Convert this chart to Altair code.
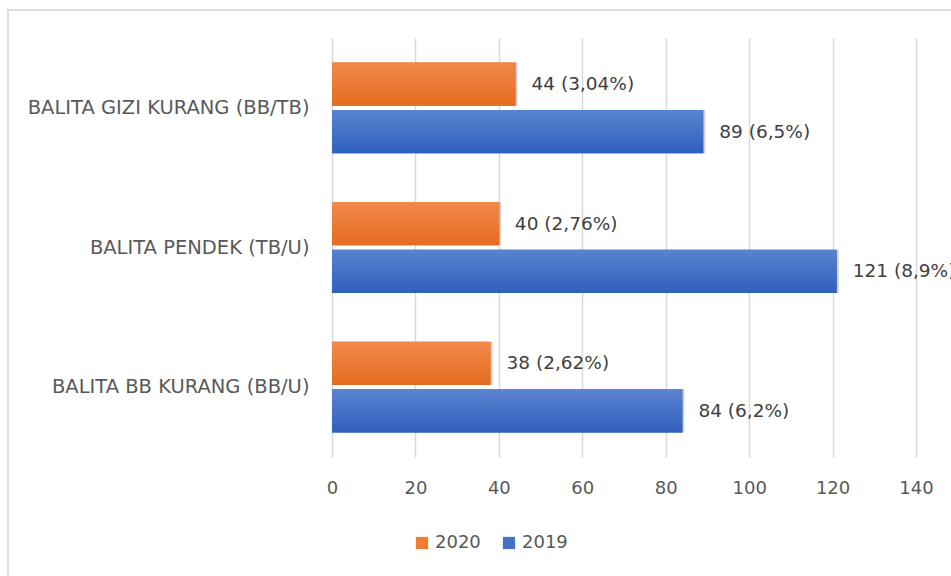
import altair as alt
import pandas as pd

# Nutritional status of children under five, 2019 vs 2020
categories = [
    "BALITA GIZI KURANG (BB/TB)",
    "BALITA PENDEK (TB/U)",
    "BALITA BB KURANG (BB/U)",
]
years = ["2020", "2019"]
values_2020 = [44, 40, 38]
values_2019 = [89, 121, 84]
pct_2020 = ["3,04", "2,76", "2,62"]
pct_2019 = ["6,5", "8,9", "6,2"]
x_ticks = [0, 20, 40, 60, 80, 100, 120, 140]

rows = []
for cat, v, p in zip(categories, values_2020, pct_2020):
    rows.append({"kategori": cat, "tahun": "2020", "jumlah": v, "label": f"{v} ({p}%)"})
for cat, v, p in zip(categories, values_2019, pct_2019):
    rows.append({"kategori": cat, "tahun": "2019", "jumlah": v, "label": f"{v} ({p}%)"})
df = pd.DataFrame(rows)

FONT = "DejaVu Sans"
TEXT_COLOR = "#595959"
ORANGE = "#ED7D31"
BLUE = "#4472C4"

x_enc = alt.X(
    "jumlah:Q",
    scale=alt.Scale(domain=[0, 140], nice=False),
    axis=alt.Axis(
        values=x_ticks,
        title=None,
        domain=False,
        ticks=False,
        grid=True,
        gridColor="#d9d9d9",
        gridWidth=1.5,
        labelFont=FONT,
        labelFontSize=18,
        labelColor=TEXT_COLOR,
        labelPadding=22,
        labelFlush=False,
    ),
)
y_enc = alt.Y(
    "kategori:N",
    sort=categories,
    scale=alt.Scale(paddingInner=0.35, paddingOuter=0.175),
    axis=alt.Axis(
        title=None,
        domain=False,
        ticks=False,
        grid=False,
        labelFont=FONT,
        labelFontSize=19.5,
        labelColor=TEXT_COLOR,
        labelPadding=23,
        labelLimit=400,
    ),
)
yoff_enc = alt.YOffset(
    "tahun:N",
    sort=years,
    scale=alt.Scale(domain=years, paddingInner=0.09),
)

base = alt.Chart(df).encode(x=x_enc, y=y_enc, yOffset=yoff_enc)

# Soft drop shadow under each bar
shadow = base.mark_bar(color="#000000", opacity=0.18, xOffset=2, yOffset=3)

# Solid bars carry the legend
bars = base.mark_bar().encode(
    color=alt.Color(
        "tahun:N",
        scale=alt.Scale(domain=years, range=[ORANGE, BLUE]),
        legend=alt.Legend(
            title=None,
            orient="none",
            legendX=81,
            legendY=496,
            direction="horizontal",
            symbolType="square",
            symbolSize=150,
            symbolStrokeWidth=0,
            labelFont=FONT,
            labelFontSize=18,
            labelColor=TEXT_COLOR,
            labelOffset=4,
            columnPadding=19,
        ),
    )
)


def gradient(top, bottom):
    return alt.Gradient(
        gradient="linear",
        stops=[
            alt.GradientStop(color=top, offset=0),
            alt.GradientStop(color=bottom, offset=1),
        ],
        x1=0, x2=0, y1=0, y2=1,
    )


shade_2020 = base.transform_filter(alt.datum.tahun == "2020").mark_bar(
    color=gradient("#F3894D", "#E46C1E")
)
shade_2019 = base.transform_filter(alt.datum.tahun == "2019").mark_bar(
    color=gradient("#5A84D0", "#2F60BD")
)

labels = base.mark_text(
    align="left", baseline="middle", dx=16, font=FONT, fontSize=18.5, color="#404040"
).encode(text="label:N")

# Light frame lines along the top and left edge
frame_top = alt.Chart(df).mark_rule(color="#dcdcdc", strokeWidth=2).encode(
    x=alt.value(-324), x2=alt.value(640), y=alt.value(-28)
)
frame_left = alt.Chart(df).mark_rule(color="#dcdcdc", strokeWidth=2).encode(
    x=alt.value(-324), y=alt.value(-29), y2=alt.value(560)
)

chart = (
    alt.layer(frame_top, frame_left, shadow, bars, shade_2020, shade_2019, labels)
    .properties(
        width=584,
        height=419,
        autosize=alt.AutoSizeParams(type="none"),
        padding={"left": 332, "top": 38, "right": 35, "bottom": 119},
        background="white",
    )
    .configure_view(stroke=None)
)

chart.save("out.html", embed_options={"renderer": "svg", "actions": False})
